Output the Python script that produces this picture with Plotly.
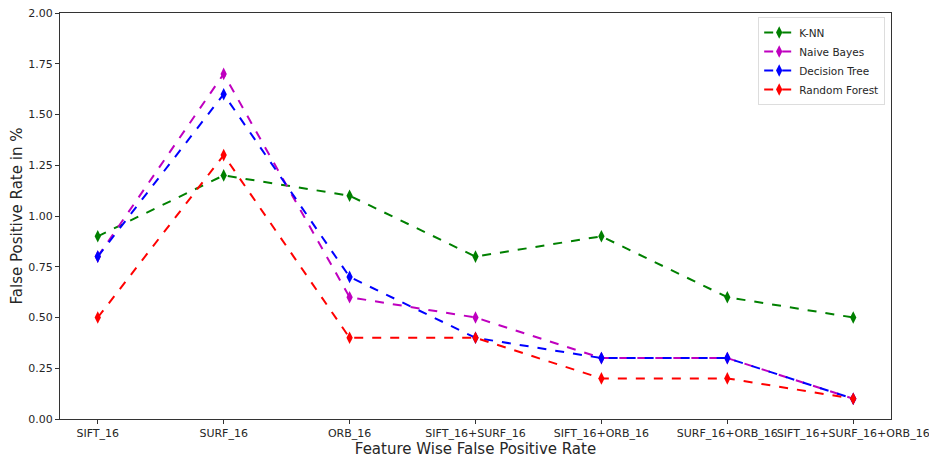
import plotly.graph_objects as go

categories = ["SIFT_16", "SURF_16", "ORB_16", "SIFT_16+SURF_16", "SIFT_16+ORB_16",
              "SURF_16+ORB_16", "SIFT_16+SURF_16+ORB_16"]
knn = [0.9, 1.2, 1.1, 0.8, 0.9, 0.6, 0.5]
naive_bayes = [0.8, 1.7, 0.6, 0.5, 0.3, 0.3, 0.1]
decision_tree = [0.8, 1.6, 0.7, 0.4, 0.3, 0.3, 0.1]
random_forest = [0.5, 1.3, 0.4, 0.4, 0.2, 0.2, 0.1]
y_ticks = [0.0, 0.25, 0.5, 0.75, 1.0, 1.25, 1.5, 1.75, 2.0]

series = [
    ("K-NN", knn, "#008000"),
    ("Naive Bayes", naive_bayes, "#bf00bf"),
    ("Decision Tree", decision_tree, "#0000ff"),
    ("Random Forest", random_forest, "#ff0000"),
]

fig = go.Figure()
idx = list(range(len(categories)))
for name, vals, color in series:
    fig.add_trace(go.Scatter(
        x=idx, y=vals, name=name, mode="lines+markers",
        line=dict(color=color, width=2, dash="dash"),
        marker=dict(symbol="diamond-tall", size=9, color=color),
    ))

fig.update_layout(
    width=929, height=450,
    margin=dict(l=52, r=46, t=5, b=39),
    paper_bgcolor="white", plot_bgcolor="white",
    font=dict(family="DejaVu Sans", color="#262626", size=11),
    showlegend=True,
    legend=dict(x=0.993, y=0.99, xanchor="right", yanchor="top",
                bgcolor="rgba(255,255,255,0.8)", bordercolor="#dddddd", borderwidth=1,
                font=dict(size=10.5, color="#262626"), tracegroupgap=0,
                itemwidth=30),
)
fig.update_xaxes(
    range=[-0.3, 6.3], tickmode="array", tickvals=idx, ticktext=categories,
    tickangle=0, showgrid=False, zeroline=False, automargin=False,
    ticklabeloverflow="allow",
    showline=True, linecolor="#333333", linewidth=1, mirror=True,
    ticks="outside", ticklen=4, tickcolor="#333333",
    title=dict(text="Feature Wise False Positive Rate", font=dict(size=15), standoff=4),
)
fig.update_yaxes(
    range=[0, 2], tickmode="array", tickvals=y_ticks,
    ticktext=[f"{v:.2f}" for v in y_ticks],
    showgrid=False, zeroline=False, automargin=False,
    ticklabeloverflow="allow",
    showline=True, linecolor="#333333", linewidth=1, mirror=True,
    ticks="outside", ticklen=4, tickcolor="#333333",
    title=dict(text="False Positive Rate in %", font=dict(size=15), standoff=5),
)

fig.write_html("out.html")
